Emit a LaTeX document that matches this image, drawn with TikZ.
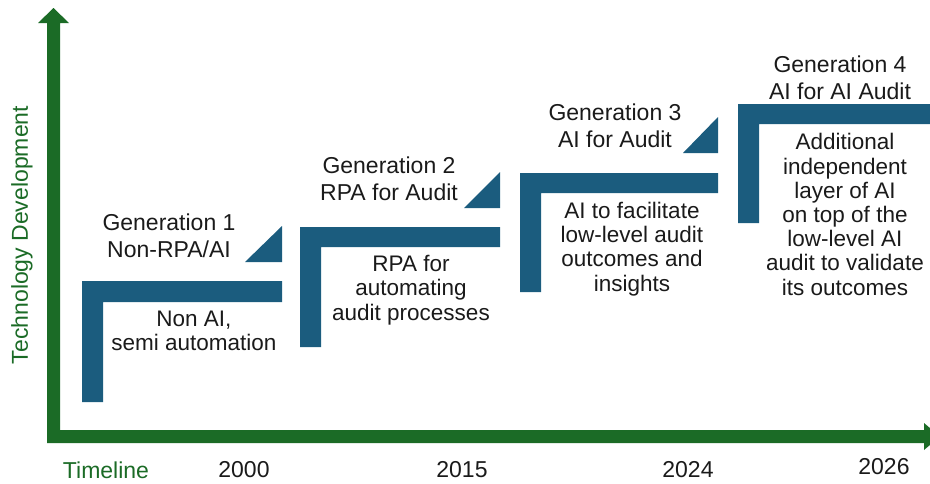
\documentclass[tikz,border=0pt]{standalone}
\usepackage{fontspec}
\setmainfont{Liberation Sans}
\definecolor{axisgreen}{HTML}{1B6B26}
\definecolor{stepblue}{HTML}{1B5C7E}
\definecolor{txt}{HTML}{1A1A1A}
\tikzset{
  hdr/.style={align=center, inner sep=0pt, text=txt, font=\fontsize{23}{27}\selectfont},
  bodytxt/.style={align=center, inner sep=0pt, text=txt, font=\fontsize{22.5}{24.2}\selectfont},
  axlabel/.style={inner sep=0pt, text=axisgreen, font=\fontsize{23}{27}\selectfont},
  yearlbl/.style={inner sep=0pt, text=txt, font=\fontsize{23}{27}\selectfont},
  stepfill/.style={fill=stepblue, draw=none},
  axisfill/.style={fill=axisgreen, draw=none}
}
\begin{document}
\begin{tikzpicture}[x=1pt,y=-1pt]
\useasboundingbox (0,0) rectangle (930,483);
\clip (0,0) rectangle (930,483);
% axes
\fill[axisfill] (47,443) -- (47,23) -- (38,23) -- (53.5,8) -- (69,23) -- (60,23) -- (60,430)
  -- (924,430) -- (924,423) -- (940,436.5) -- (924,450) -- (924,443) -- cycle;
\node[axlabel, rotate=90] (ylab) at (22,235) {Technology Development};
\node[axlabel] (tl) at (106,470) {Timeline};
\node[yearlbl] (y2000) at (244,470) {2000};
\node[yearlbl] (y2015) at (462,470) {2015};
\node[yearlbl] (y2024) at (688,470) {2024};
\node[yearlbl] (y2026) at (884,467) {2026};
% generation 1
\fill[stepfill] (82,281) -- (282,281) -- (282,302) -- (103,302) -- (103,402) -- (82,402) -- cycle;
\fill[stepfill] (245,262) -- (282,262) -- (282,226) -- cycle;
\node[hdr] (g1h) at (169,235.5) {Generation 1\\Non-RPA/AI};
\node[bodytxt] (g1b) at (194,330.5) {Non AI,\\semi automation};
% generation 2
\fill[stepfill] (300,227) -- (500,227) -- (500,247) -- (321,247) -- (321,347) -- (300,347) -- cycle;
\fill[stepfill] (464,208) -- (500,208) -- (500,172) -- cycle;
\node[hdr] (g2h) at (389,178.5) {Generation 2\\RPA for Audit};
\node[bodytxt] (g2b) at (411,290) {RPA for\\automating\\audit processes};
% generation 3
\fill[stepfill] (520,173) -- (718,173) -- (718,193) -- (541,193) -- (541,292) -- (520,292) -- cycle;
\fill[stepfill] (683,153) -- (718,153) -- (718,117) -- cycle;
\node[hdr] (g3h) at (615,126) {Generation 3\\AI for Audit};
\node[bodytxt] (g3b) at (632,249) {AI to facilitate\\low-level audit\\outcomes and\\insights};
% generation 4
\fill[stepfill] (738,104) -- (935,104) -- (935,124) -- (759,124) -- (759,223) -- (738,223) -- cycle;
\node[hdr] (g4h) at (840,77.5) {Generation 4\\AI for AI Audit};
\node[bodytxt] (g4b) at (845,214.5) {Additional\\independent\\layer of AI\\on top of the\\low-level AI\\audit to validate\\its outcomes};
\end{tikzpicture}
\end{document}
